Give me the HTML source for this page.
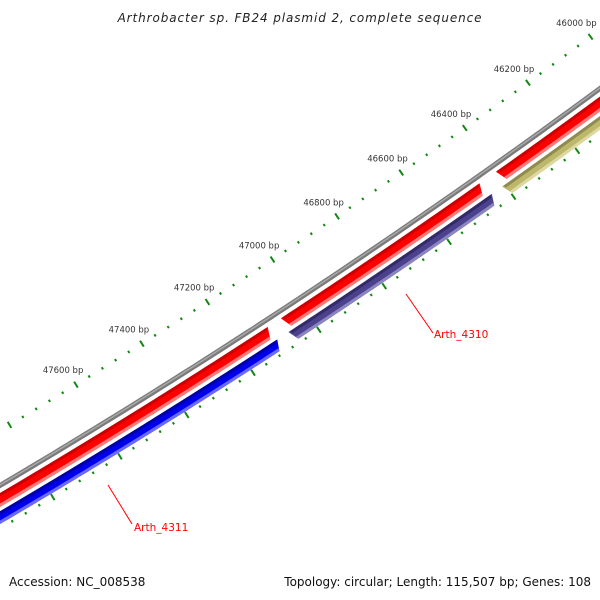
<!DOCTYPE html>
<html><head><meta charset="utf-8"><style>
html,body{margin:0;padding:0;background:#fff;width:600px;height:600px;overflow:hidden;}
svg{display:block;font-family:"DejaVu Sans","Liberation Sans",sans-serif;}
</style></head><body>
<svg id="map" width="600" height="600" viewBox="0 0 600 600" xmlns="http://www.w3.org/2000/svg" style="overflow:hidden">
<rect width="600" height="600" fill="#fff"/>
<g id="ticks"></g>
<g id="genes"></g>
<text x="300" y="22" text-anchor="middle" font-size="12" font-style="italic" letter-spacing="0.9" fill="#222">Arthrobacter sp. FB24 plasmid 2, complete sequence</text>
<line x1="406" y1="294" x2="433" y2="333" stroke="#f00" stroke-width="1"/>
<text x="434" y="338" font-size="10.5" fill="#f00">Arth_4310</text>
<line x1="108" y1="485" x2="132" y2="524" stroke="#f00" stroke-width="1"/>
<text x="134" y="531" font-size="10.5" fill="#f00">Arth_4311</text>
<text x="9" y="586" font-size="12" fill="#111">Accession: NC_008538</text>
<text x="591" y="586" text-anchor="end" font-size="12" fill="#111">Topology: circular; Length: 115,507 bp; Genes: 108</text>
</svg>
<script>
const tickLabelBp = [46000,46200,46400,46600,46800,47000,47200,47400,47600];
const geneStarts = [47105, 46451, 44800, 47102, 46441, 44800];
const geneEnds = [49200, 47065, 46400, 49200, 47068, 46409];
const geneStrands = [1, 1, 1, -1, -1, -1];
const geneColors = ['red','red','red','blue','purple','khaki'];
const genomeLength = 115507;

const NS='http://www.w3.org/2000/svg';
const Rb = 7085;
const P1=[0,485.5], P2=[600,88.5];
const mx=(P1[0]+P2[0])/2, my=(P1[1]+P2[1])/2;
const ch=Math.hypot(P2[0]-P1[0],P2[1]-P1[1]);
const nx=-(P1[1]-P2[1])/ch, ny=-(P2[0]-P1[0])/ch;
const hh=Math.sqrt(Rb*Rb-ch*ch/4);
const cx=mx+hh*nx, cy=my+hh*ny;
const refA=[590,36], refB=[10,425.7];
const angA=Math.atan2(refA[1]-cy,refA[0]-cx), angB=Math.atan2(refB[1]-cy,refB[0]-cx);
const Ro=(Math.hypot(refA[0]-cx,refA[1]-cy)+Math.hypot(refB[0]-cx,refB[1]-cy))/2;
const perBp=(angB-angA)/1800;
function ang(bp){return angA+(bp-46000)*perBp;}
function pt(r,bp){const a=ang(bp);return [cx+r*Math.cos(a),cy+r*Math.sin(a)];}

const tg=document.getElementById('ticks');
function mk(tag,attrs,parent){const e=document.createElementNS(NS,tag);for(const k in attrs)e.setAttribute(k,attrs[k]);parent.appendChild(e);return e;}

function arcPath(r,b0,b1){let d='';for(let b=b0;b<=b1;b+=20){const p=pt(r,b);d+=(d?'L':'M')+p[0].toFixed(2)+' '+p[1].toFixed(2);}return d;}
const bb1=mk('path',{d:arcPath(Rb,44800,49200),fill:'none',stroke:'#7a7a7a','stroke-width':5},tg);


const bb2=mk('path',{d:arcPath(Rb-0.5,44800,49200),fill:'none',stroke:'#a8a8a8','stroke-width':1.5},tg);



const rings=[Ro, Rb+37];
rings.forEach((rr,ri)=>{
  for(let b=45760;b<=48400;b+=40){
    const major=(b%200===0);
    const len=major?7:2.5;
    const p0=pt(rr-len/2,b), p1=pt(rr+len/2,b);
    const l=mk('line',{x1:p0[0].toFixed(2),y1:p0[1].toFixed(2),x2:p1[0].toFixed(2),y2:p1[1].toFixed(2),stroke:'#118811','stroke-width':2},tg);
    
    
  }
});
tickLabelBp.forEach(b=>{
  const p=pt(Ro-17,b);
  const t=mk('text',{x:(p[0]-4).toFixed(1),y:(p[1]+3).toFixed(1),'text-anchor':'middle','font-size':8.5,fill:'#333'},tg);
  t.textContent=b+' bp';
  
  
});

const palette={red:['#ff0000','#cc0000','#ff7a7a'],blue:['#0000ee','#0000a8','#6a6aff'],purple:['#4b418c','#332a6a','#8a84c0'],khaki:['#bdb76b','#8f8a4e','#dcd8a0']};
const gg=document.getElementById('genes');
function band(rA,rB,b0,b1,cham){
  let pts=[];
  for(let b=b0;b<=b1;b+=10)pts.push(pt(rA,b));
  pts.push(pt(rA,b1));
  pts.push(pt(rB,b1-cham));
  for(let b=b1-cham;b>=b0+cham;b-=10)pts.push(pt(rB,b));
  pts.push(pt(rB,b0+cham));
  return pts.map(p=>p[0].toFixed(2)+','+p[1].toFixed(2)).join(' ');
}
for(let i=0;i<geneStarts.length;i++){
  const rc=geneStrands[i]>0?Rb+12.5:Rb+27.7;
  const th=geneStrands[i]>0?12:11;
  const c=palette[geneColors[i]];
  const g=mk('g',{},gg);
  
  
  mk('polygon',{points:band(rc-th/2,rc+th/2,geneStarts[i],geneEnds[i],12),fill:c[0]},g);
  mk('polygon',{points:band(rc-th/2,rc-th/2+3,geneStarts[i]+4,geneEnds[i]-4,3),fill:c[1]},g);
  mk('polygon',{points:band(rc+th/2-3,rc+th/2,geneStarts[i]+10,geneEnds[i]-10,2),fill:c[2]},g);
}
</script>
</body></html>
